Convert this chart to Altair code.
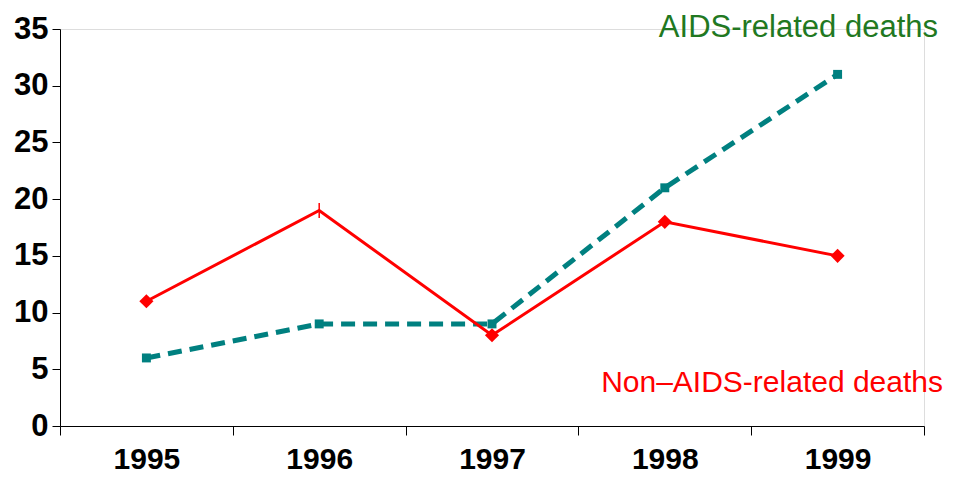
import altair as alt
import pandas as pd

years = ["1995", "1996", "1997", "1998", "1999"]
non_aids = [11, 19, 8, 18, 15]
aids = [6, 9, 9, 21, 31]

df = pd.DataFrame({
    "year": years * 2,
    "deaths": non_aids + aids,
    "series": ["Non–AIDS-related deaths"] * 5 + ["AIDS-related deaths"] * 5,
})

RED = "#FF0000"
TEAL = "#008080"
GREEN = "#217821"
FONT = "Liberation Sans"

x_enc = alt.X("year:N", sort=years,
              scale=alt.Scale(paddingInner=0, paddingOuter=0),
              axis=alt.Axis(title=None, labelAngle=0, tickBand="extent",
                            labelFont=FONT, labelFontSize=30, labelFontWeight="bold",
                            labelColor="black", labelPadding=9, tickSize=9,
                            domainColor="black", tickColor="black", grid=False))
y_enc = alt.Y("deaths:Q",
              scale=alt.Scale(domain=[0, 35], nice=False),
              axis=alt.Axis(title=None, values=[0, 5, 10, 15, 20, 25, 30, 35],
                            labelFont=FONT, labelFontSize=31, labelFontWeight="bold",
                            labelColor="black", labelPadding=4, tickSize=8,
                            domainColor="black", tickColor="black", grid=False))

base = alt.Chart(df)

red_line = base.transform_filter(alt.datum.series == "Non–AIDS-related deaths").mark_line(
    color=RED, strokeWidth=3).encode(x=x_enc, y=y_enc)
red_pts = base.transform_filter(
    (alt.datum.series == "Non–AIDS-related deaths") & (alt.datum.year != "1996")
).mark_point(shape="diamond", filled=True, color=RED, size=200, opacity=1).encode(x=x_enc, y=y_enc)
red_tick = base.transform_filter(
    (alt.datum.series == "Non–AIDS-related deaths") & (alt.datum.year == "1996")
).mark_point(shape="stroke", color=RED, size=220, strokeWidth=1.5, angle=90, opacity=1).encode(x=x_enc, y=y_enc)

teal_line = base.transform_filter(alt.datum.series == "AIDS-related deaths").mark_line(
    color=TEAL, strokeWidth=5, strokeDash=[14, 8]).encode(x=x_enc, y=y_enc)
teal_pts = base.transform_filter(alt.datum.series == "AIDS-related deaths").mark_point(
    shape="square", filled=True, color=TEAL, size=80, opacity=1).encode(x=x_enc, y=y_enc)

lab_aids = alt.Chart(pd.DataFrame({"t": ["AIDS-related deaths"]})).mark_text(
    font=FONT, fontSize=31, color=GREEN, align="right", baseline="middle"
).encode(text="t:N", x=alt.value(878), y=alt.value(-1))
lab_non = alt.Chart(pd.DataFrame({"t": ["Non–AIDS-related deaths"]})).mark_text(
    font=FONT, fontSize=30, color=RED, align="right", baseline="middle"
).encode(text="t:N", x=alt.value(883), y=alt.value(354))

chart = alt.layer(teal_line, red_line, red_pts, red_tick, teal_pts, lab_aids, lab_non).properties(
    width=864, height=397,
    autosize=alt.AutoSizeParams(type="none"),
    padding={"left": 52, "top": 21, "right": 22, "bottom": 50},
).configure_view(strokeWidth=0).configure(background="white")

chart.save("out.html", embed_options={"renderer": "svg", "actions": False})
